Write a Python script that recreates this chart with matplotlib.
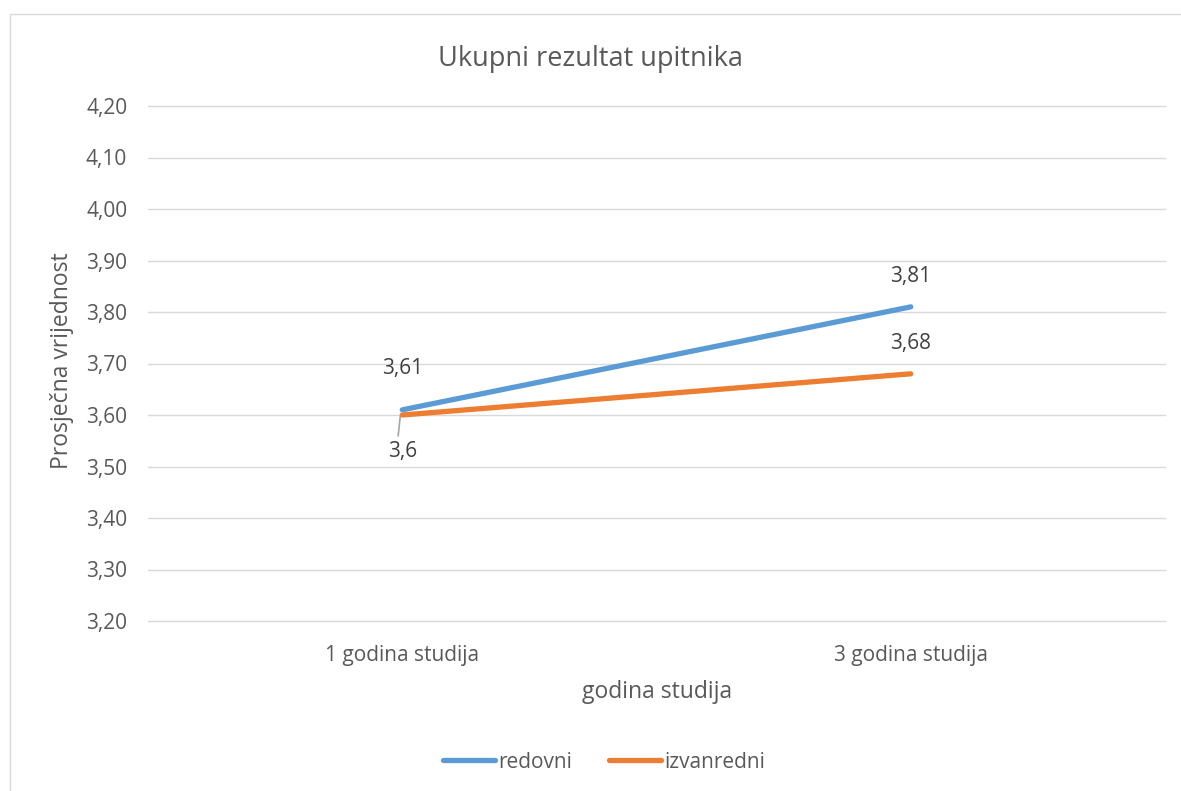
import matplotlib
matplotlib.use("Agg")
import matplotlib.pyplot as plt
from matplotlib.patches import Rectangle
from matplotlib.lines import Line2D

categories = ["1 godina studija", "3 godina studija"]
redovni = [3.61, 3.81]
izvanredni = [3.60, 3.68]
redovni_labels = ["3,61", "3,81"]
izvanredni_labels = ["3,6", "3,68"]
yticks = [3.2, 3.3, 3.4, 3.5, 3.6, 3.7, 3.8, 3.9, 4.0, 4.1, 4.2]

plt.rcParams['font.family'] = ['Open Sans', 'DejaVu Sans']
TXT = "#595959"
BLUE = "#5b9bd5"
ORANGE = "#ed7d31"
W, H = 1181, 791
FS = 15

fig = plt.figure(figsize=(W / 100, H / 100), dpi=100)
fig.patches.append(Rectangle((10 / W, -0.1), 1.2, 1 - 14 / H + 0.1, transform=fig.transFigure,
                             fill=False, edgecolor="#d9d9d9", lw=1.0))
ax = fig.add_axes([148 / W, 1 - 621 / H, (1165 - 148) / W, (621 - 106) / H])

x = list(range(len(categories)))
ax.plot(x, redovni, color=BLUE, lw=3.8, solid_capstyle="round", label="redovni", zorder=3)
ax.plot(x, izvanredni, color=ORANGE, lw=3.8, solid_capstyle="round", label="izvanredni", zorder=4)

ax.set_xlim(-0.5, 1.5)
ax.set_ylim(3.2, 4.2)
ax.set_yticks(yticks)
ax.set_yticklabels([f"{v:.2f}".replace(".", ",") for v in yticks])
ax.set_xticks(x)
ax.set_xticklabels(categories)
for v in yticks:
    ax.axhline(v, color="#d9d9d9", lw=1.0, zorder=0, clip_on=False)
for s in ax.spines.values():
    s.set_visible(False)
ax.tick_params(axis="both", length=0, colors=TXT, labelsize=FS)
ax.tick_params(axis="y", pad=15)
ax.tick_params(axis="x", pad=17)

# data labels
LC = "#404040"
ax.annotate(redovni_labels[0], (x[0], redovni[0]), xytext=(0, 22), textcoords="offset points",
            ha="center", va="bottom", color=LC, fontsize=FS)
ax.annotate(redovni_labels[1], (x[1], redovni[1]), xytext=(0, 14), textcoords="offset points",
            ha="center", va="bottom", color=LC, fontsize=FS)
ax.annotate(izvanredni_labels[1], (x[1], izvanredni[1]), xytext=(0, 14), textcoords="offset points",
            ha="center", va="bottom", color=LC, fontsize=FS)
ax.annotate(izvanredni_labels[0], (x[0], izvanredni[0]), xytext=(0, -26), textcoords="offset points",
            ha="center", va="center", color=LC, fontsize=FS)
ax.annotate("", (x[0] - 0.004, izvanredni[0] - 0.003), xytext=(-1.5, -14), textcoords="offset points",
            arrowprops=dict(arrowstyle="-", color="#a6a6a6", lw=1.2, shrinkA=0, shrinkB=0))

fig.text(0.5, 1 - 59 / H, "Ukupni rezultat upitnika", ha="center", va="center", color=TXT, fontsize=19.5)
fig.text(657 / W, 1 - 692 / H, "godina studija", ha="center", va="center", color=TXT, fontsize=16.5)
fig.text(62 / W, 1 - 361 / H, "Prosječna vrijednost", ha="center", va="center", rotation=90,
         color=TXT, fontsize=16.5)

handles = [Line2D([], [], color=BLUE, lw=3.8, solid_capstyle="round"),
           Line2D([], [], color=ORANGE, lw=3.8, solid_capstyle="round")]
fig.legend(handles, ["redovni", "izvanredni"], loc="center", bbox_to_anchor=(604 / W, 1 - 762 / H),
           ncol=2, frameon=False, fontsize=FS, labelcolor=TXT, handlelength=2.5,
           handletextpad=0.15, columnspacing=1.8)

fig.savefig("out.png", dpi=100)
